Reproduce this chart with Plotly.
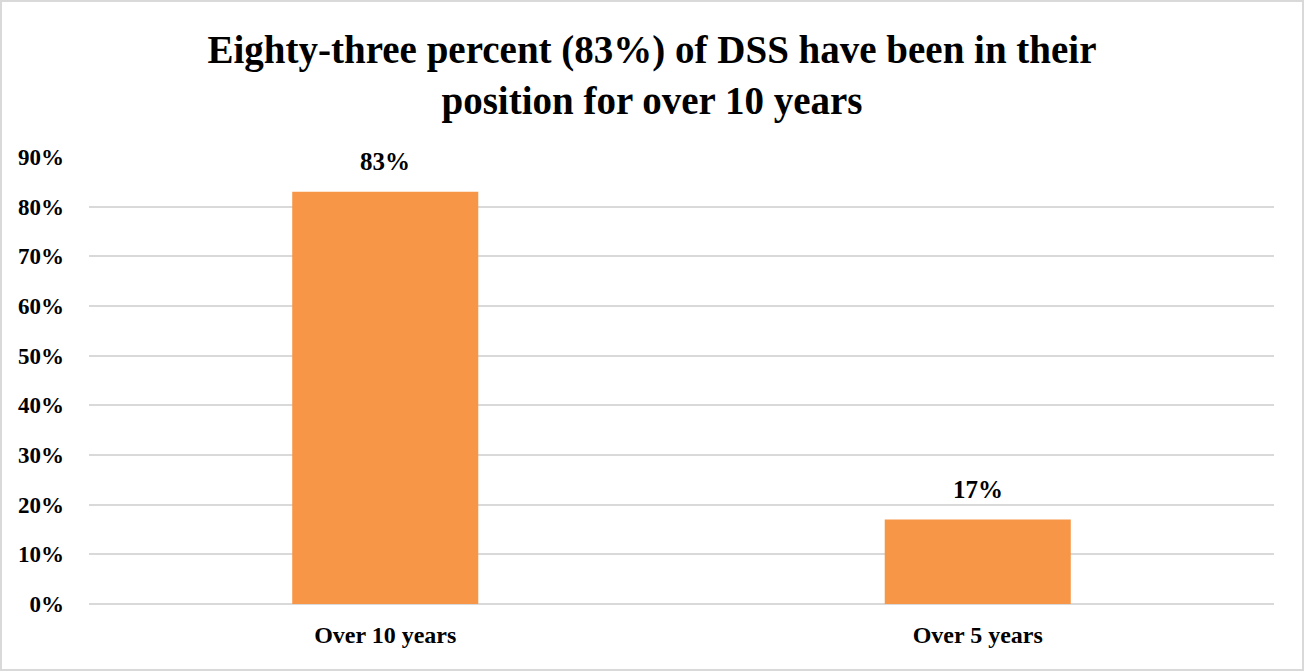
import plotly.graph_objects as go

# Tenure of DSS in their position
categories = ["Over 10 years", "Over 5 years"]
shares = [0.83, 0.17]
tick_values = [0, 0.1, 0.2, 0.3, 0.4, 0.5, 0.6, 0.7, 0.8, 0.9]
tick_labels = ["0%", "10%", "20%", "30%", "40%", "50%", "60%", "70%", "80%", "90%"]

FONT = "Liberation Serif"
W, H = 1304, 671
ML, MR, MT, MB = 89, 30, 157, 67

fig = go.Figure(
    go.Bar(
        x=categories,
        y=shares,
        marker=dict(color="#F79646", line=dict(width=0)),
        width=0.314,
        hoverinfo="skip",
    )
)

# Value labels above each bar
for cat, val in zip(categories, shares):
    fig.add_annotation(
        x=cat, y=val, xref="x", yref="y",
        text=f"<b>{val:.0%}</b>",
        showarrow=False,
        yanchor="bottom",
        yshift=15,
        font=dict(family=FONT, size=25, color="#000000"),
    )

fig.update_layout(
    width=W,
    height=H,
    paper_bgcolor="white",
    plot_bgcolor="white",
    margin=dict(l=ML, r=MR, t=MT, b=MB),
    showlegend=False,
    title=dict(
        text="<b>Eighty-three percent (83%) of DSS have been in their<br>position for over 10 years</b>",
        x=0.5,
        xanchor="center",
        y=1 - 63 / H,
        yref="container",
        yanchor="middle",
        font=dict(family=FONT, size=39, color="#000000"),
    ),
    xaxis=dict(
        tickvals=categories,
        ticktext=[f"<b>{c}</b>" for c in categories],
        showgrid=False,
        showline=False,
        ticks="",
        tickfont=dict(family=FONT, size=24, color="#000000"),
        ticklabelstandoff=14,
    ),
    yaxis=dict(
        range=[0, 0.9],
        tickvals=tick_values,
        ticktext=[f"<b>{t}</b>" for t in tick_labels],
        tickfont=dict(family=FONT, size=23, color="#000000"),
        showgrid=True,
        gridcolor="#D9D9D9",
        gridwidth=1.5,
        zeroline=True,
        zerolinecolor="#D9D9D9",
        zerolinewidth=1.5,
        showline=False,
        ticks="",
        ticklabelstandoff=24,
    ),
)

# Outer frame around the whole chart
pw, ph = W - ML - MR, H - MT - MB
fig.add_shape(
    type="rect", xref="paper", yref="paper",
    x0=-(ML - 1) / pw, x1=1 + (MR - 1) / pw,
    y0=-(MB - 1) / ph, y1=1 + (MT - 1) / ph,
    line=dict(color="#D9D9D9", width=2), fillcolor="rgba(0,0,0,0)",
)

fig.write_html("out.html")
